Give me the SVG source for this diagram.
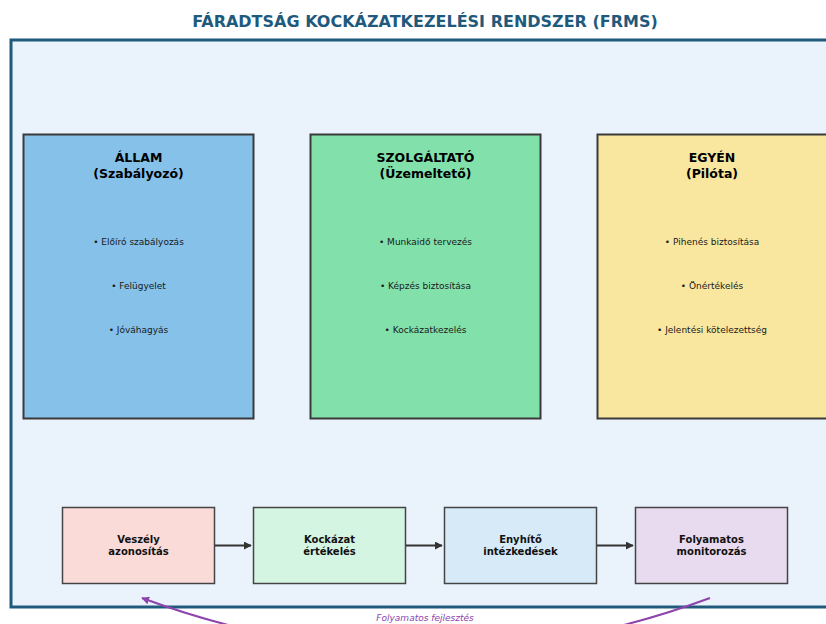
<svg xmlns="http://www.w3.org/2000/svg" width="826" height="624" viewBox="0 0 826 624">
<defs>
<style>
text{font-family:"DejaVu Sans","Liberation Sans",sans-serif;text-anchor:middle}
.title{font-size:16px;font-weight:bold;fill:#1f5a7d}
.big{stroke:#3a3a3a;stroke-width:2}
.bt{font-size:12.5px;font-weight:bold;fill:#000}
.bl{font-size:9px;fill:#1a1a1a}
.sm{stroke:#444;stroke-width:1.5}
.st{font-size:10px;font-weight:bold;fill:#111}
.conn{stroke:#333;stroke-width:2;fill:none}
</style>
<marker id="ah" viewBox="0 0 10 10" refX="9" refY="5" markerWidth="4" markerHeight="4" orient="auto"><path d="M0,0 L10,5 L0,10 z" fill="#333"/></marker>
<marker id="ap" viewBox="0 0 10 10" refX="9" refY="5" markerWidth="4" markerHeight="4" orient="auto"><path d="M0,0 L10,5 L0,10 z" fill="#8e44ad"/></marker>
</defs>
<rect width="826" height="624" fill="#ffffff"/>
<text class="title" x="425" y="27">FÁRADTSÁG KOCKÁZATKEZELÉSI RENDSZER (FRMS)</text>
<rect x="11" y="40" width="830" height="567" fill="#eaf3fb" stroke="#1f5a7d" stroke-width="3"/>
<g id="allam">
<rect class="big" x="23.5" y="134.5" width="230" height="284" fill="#85c1e9"/>
<text class="bt" x="138.5" y="162">ÁLLAM</text>
<text class="bt" x="138.5" y="178">(Szabályozó)</text>
<text class="bl" x="138.5" y="245">• Előíró szabályozás</text>
<text class="bl" x="138.5" y="289">• Felügyelet</text>
<text class="bl" x="138.5" y="333">• Jóváhagyás</text>
</g>
<g id="szolgaltato">
<rect class="big" x="310.5" y="134.5" width="230" height="284" fill="#82e0aa"/>
<text class="bt" x="425.5" y="162">SZOLGÁLTATÓ</text>
<text class="bt" x="425.5" y="178">(Üzemeltető)</text>
<text class="bl" x="425.5" y="245">• Munkaidő tervezés</text>
<text class="bl" x="425.5" y="289">• Képzés biztosítása</text>
<text class="bl" x="425.5" y="333">• Kockázatkezelés</text>
</g>
<g id="egyen">
<rect class="big" x="597.5" y="134.5" width="232" height="284" fill="#f9e79f"/>
<text class="bt" x="712" y="162">EGYÉN</text>
<text class="bt" x="712" y="178">(Pilóta)</text>
<text class="bl" x="712" y="245">• Pihenés biztosítása</text>
<text class="bl" x="712" y="289">• Önértékelés</text>
<text class="bl" x="712" y="333">• Jelentési kötelezettség</text>
</g>
<g id="veszely">
<rect class="sm" x="62.5" y="507.5" width="152" height="76" fill="#fadbd8"/>
<text class="st" x="138.5" y="543">Veszély</text>
<text class="st" x="138.5" y="555">azonosítás</text>
</g>
<g id="kockazat">
<rect class="sm" x="253.5" y="507.5" width="152" height="76" fill="#d5f5e3"/>
<text class="st" x="329.5" y="543">Kockázat</text>
<text class="st" x="329.5" y="555">értékelés</text>
</g>
<g id="enyhito">
<rect class="sm" x="444.5" y="507.5" width="152" height="76" fill="#d6eaf8"/>
<text class="st" x="520.5" y="543">Enyhítő</text>
<text class="st" x="520.5" y="555">intézkedések</text>
</g>
<g id="monitor">
<rect class="sm" x="635.5" y="507.5" width="152" height="76" fill="#e8daef"/>
<text class="st" x="711.5" y="543">Folyamatos</text>
<text class="st" x="711.5" y="555">monitorozás</text>
</g>
<g id="connectors">
<line class="conn" x1="215" y1="545.5" x2="251" y2="545.5" marker-end="url(#ah)"/>
<line class="conn" x1="406" y1="545.5" x2="442" y2="545.5" marker-end="url(#ah)"/>
<line class="conn" x1="597" y1="545.5" x2="633" y2="545.5" marker-end="url(#ah)"/>
<path d="M710,598 Q426,703 142,598" stroke="#8e44ad" stroke-width="2" fill="none" marker-end="url(#ap)"/>
<text x="425" y="621" font-size="9" font-style="italic" fill="#8e44ad">Folyamatos fejlesztés</text>
</g>
</svg>
